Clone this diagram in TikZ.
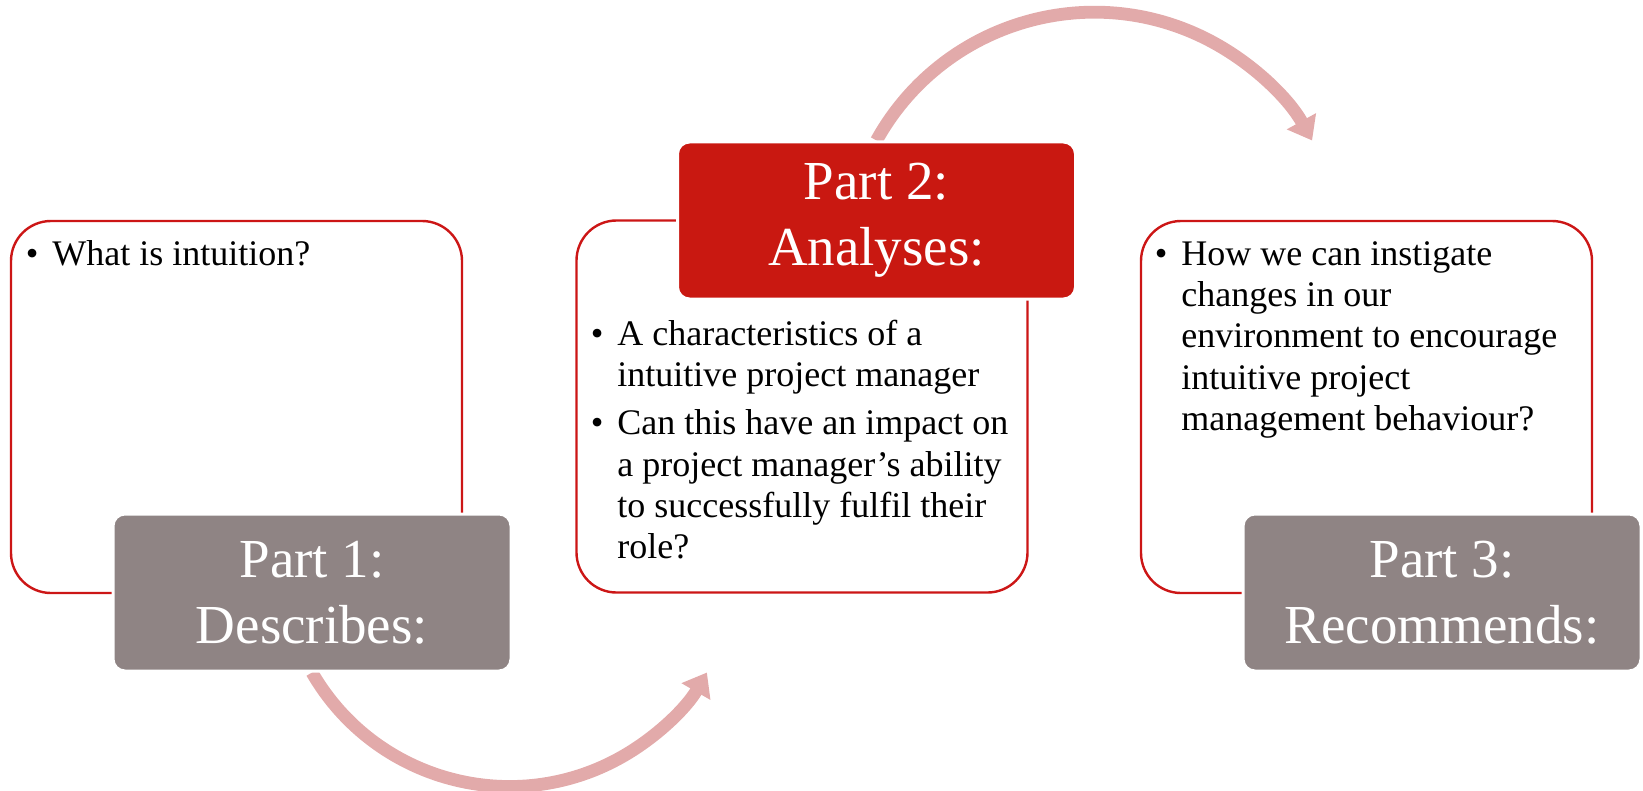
\documentclass[tikz,border=0pt]{standalone}
\usepackage{fontspec}
\setmainfont{Liberation Serif}
\usetikzlibrary{arrows.meta,backgrounds}

\definecolor{boxred}{RGB}{204,22,22}
\definecolor{labred}{RGB}{201,24,17}
\definecolor{labgrey}{RGB}{143,132,132}
\definecolor{flowpink}{RGB}{226,170,170}

\newcommand{\bul}{\llap{\textbullet\hspace{7pt}}\strut}

\begin{document}
\begin{tikzpicture}[x=0.5pt,y=-0.5pt,
box/.style={draw=boxred,line width=1.2pt,fill=white,rounded corners=20pt,minimum width=225.5pt,minimum height=186pt},
lab/.style={draw=white,line width=1.5pt,rounded corners=6pt,minimum width=199pt,minimum height=78.5pt,text=white,align=center,font=\fontsize{27.5}{33}\selectfont},
txt/.style={anchor=north west,inner sep=0pt,align=left,font=\fontsize{18}{20.65}\selectfont},
flow/.style={draw=flowpink,line width=6.4pt,-{Triangle[length=11pt,width=16pt]}}]
\useasboundingbox (0,0) rectangle (1643,791);
\node [box] (a) at (236.5,407) {};
\node [lab,fill=labgrey] (b) at (312,592.5) {Part 1:\\Describes:};
\node [box] (c) at (802,406.5) {};
\node [lab,fill=labred] (d) at (876.5,220.5) {Part 2:\\Analyses:};
\node [box] (e) at (1366.5,407) {};
\node [lab,fill=labgrey] (f) at (1442,592.5) {Part 3:\\Recommends:};
\node [txt] (g) at (52,236) {\bul What is intuition?};
\node [txt] (h) at (617,316) {\bul A characteristics of a\\intuitive project manager\\[3.4pt]
\bul Can this have an impact on\\a project manager’s ability\\to successfully fulfil their\\role?};
\node [txt] (i) at (1181,236) {\bul How we can instigate\\changes in our\\environment to encourage\\intuitive project\\management behaviour?};
\begin{scope}[on background layer]
\draw [flow] (b.south) arc [start angle=210,end angle=330,radius=114pt] coordinate (j);
\draw [flow] (d.north) arc [start angle=151,end angle=29,radius=124.5pt] coordinate (k);
\end{scope}
\end{tikzpicture}
\end{document}
